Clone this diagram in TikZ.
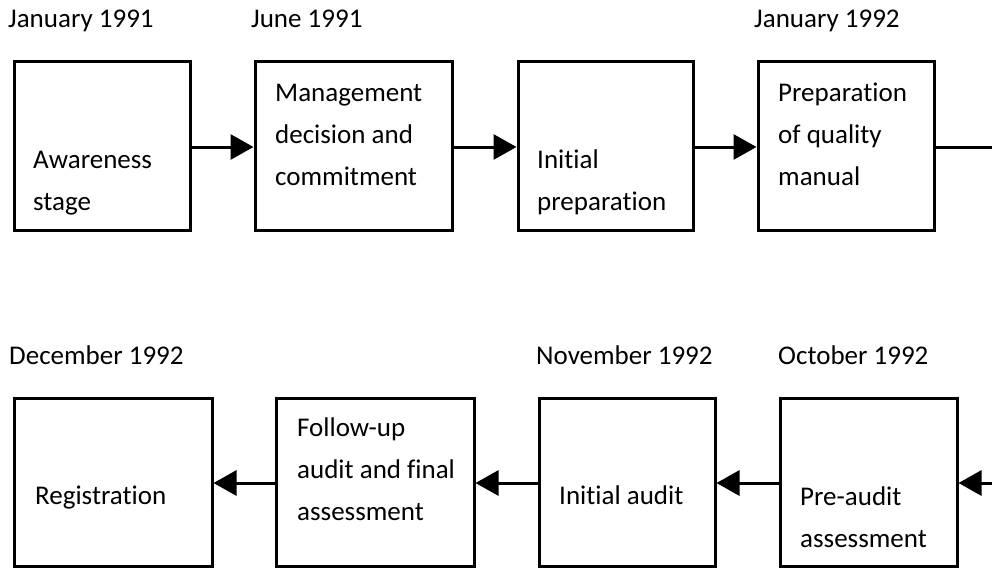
\documentclass[tikz,border=0pt]{standalone}
\usepackage{fontspec}
\setmainfont[Ligatures={NoCommon}]{Carlito}
\usetikzlibrary{arrows.meta}
\begin{document}
\begin{tikzpicture}[x=1pt, y=-1pt,
  stagebox/.style={draw, line width=3pt, rectangle, inner sep=0pt,
    minimum height=168pt},
  txt/.style={anchor=base west, inner sep=0pt, align=left,
    font=\fontsize{27}{42}\selectfont},
  flow/.style={line width=3pt, -{Triangle[length=23pt,width=25pt]}},
  plain/.style={line width=3pt}]
\useasboundingbox (0,0) rectangle (992,567);

% top row stages
\node[stagebox, minimum width=176pt] (b1) at (102,146) {};
\node[stagebox, minimum width=197pt] (b2) at (353.5,146) {};
\node[stagebox, minimum width=175pt] (b3) at (605.5,146) {};
\node[stagebox, minimum width=176pt] (b4) at (846,146) {};

% bottom row stages
\node[stagebox, minimum width=198pt] (c1) at (113,482) {};
\node[stagebox, minimum width=198pt] (c2) at (375,482) {};
\node[stagebox, minimum width=176pt] (c3) at (627,482) {};
\node[stagebox, minimum width=177pt] (c4) at (868.5,482) {};

% stage texts (anchored at the baseline of the last line)
\node[txt] (t1) at (33,210) {Awareness\\stage};
\node[txt] (t2) at (275,185) {Management\\decision and\\commitment};
\node[txt] (t3) at (537,210) {Initial\\preparation};
\node[txt] (t4) at (778,185) {Preparation\\of quality\\manual};
\node[txt] (u1) at (35,504) {Registration};
\node[txt] (u2) at (297,520) {Follow-up\\audit and final\\assessment};
\node[txt] (u3) at (559,504) {Initial audit};
\node[txt] (u4) at (800,547) {Pre-audit\\assessment};

% dates
\node[txt] (d1) at (8,28) {January 1991};
\node[txt] (d2) at (251,28) {June 1991};
\node[txt] (d3) at (754,28) {January 1992};
\node[txt] (d4) at (9,364) {December 1992};
\node[txt] (d5) at (536,364) {November 1992};
\node[txt] (d6) at (778,364) {October 1992};

% connectors
\coordinate (outR) at (992,147);
\coordinate (inR) at (992,483);
\draw[flow] (b1.east |- 0,147) -- (b2.west |- 0,147);
\draw[flow] (b2.east |- 0,147) -- (b3.west |- 0,147);
\draw[flow] (b3.east |- 0,147) -- (b4.west |- 0,147);
\draw[plain] (b4.east |- outR) -- (outR);
\draw[flow] (inR) -- (c4.east |- inR);
\draw[flow] (c4.west |- inR) -- (c3.east |- inR);
\draw[flow] (c3.west |- inR) -- (c2.east |- inR);
\draw[flow] (c2.west |- inR) -- (c1.east |- inR);
\end{tikzpicture}
\end{document}
